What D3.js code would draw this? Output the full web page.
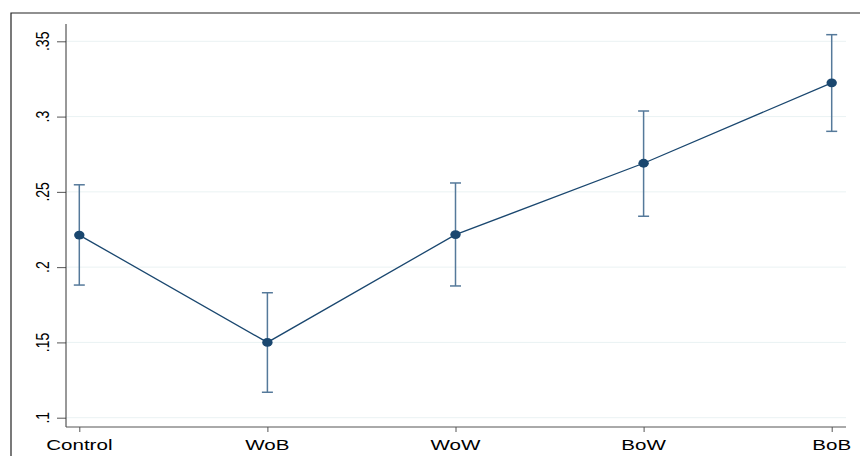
<!DOCTYPE html>
<html>
<head>
<meta charset="utf-8">
<script src="https://cdn.jsdelivr.net/npm/d3@7"></script>
<style>
  html, body { margin: 0; padding: 0; background: #fff; }
  svg { display: block; }
  text { font-family: "Liberation Sans", Arial, Helvetica, sans-serif; fill: #000; }
</style>
</head>
<body>
<svg id="chart" width="860" height="456"></svg>
<script>
// Group means with 95% confidence intervals
const groups = ["Control", "WoB", "WoW", "BoW", "BoB"];
const means = [0.2213, 0.1500, 0.2216, 0.2690, 0.3224];
const ciLow = [0.1881, 0.1169, 0.1875, 0.2338, 0.2902];
const ciHigh = [0.2547, 0.1830, 0.2559, 0.3037, 0.3544];
const yTicks = [0.1, 0.15, 0.2, 0.25, 0.3, 0.35];
const yTickLabels = [".1", ".15", ".2", ".25", ".3", ".35"];

const svg = d3.select("#chart");
const W = 860, H = 456;

// plot region
const plot = { left: 66, right: 846, top: 24, bottom: 427 };
const stretch = 1.47; // wide glyphs of the exported graph

const x = d3.scalePoint().domain(groups).range([79.3, 831.7]);
const y = d3.scaleLinear().domain([0.1, 0.35]).range([417.7, 41.3]);

const navy = "#1a476f";
const barColor = "#55799a";

// outer graph frame
svg.append("path")
  .attr("d", `M11,${H + 2} L11,13 L${W + 2},13`)
  .attr("fill", "none").attr("stroke", "#222").attr("stroke-width", 1.2);

// gridlines
svg.append("g").selectAll("line").data(yTicks).join("line")
  .attr("x1", plot.left).attr("x2", plot.right)
  .attr("y1", d => y(d)).attr("y2", d => y(d))
  .attr("stroke", "#eaf2f3").attr("stroke-width", 1);

// y axis
const yAxis = svg.append("g").attr("transform", `translate(${plot.left},0)`)
  .call(d3.axisLeft(y).tickValues(yTicks).tickSize(9).tickFormat(""));
yAxis.select(".domain").remove();
yAxis.selectAll(".tick line").attr("stroke", "#555").attr("stroke-width", 1);
svg.append("line")
  .attr("x1", plot.left).attr("x2", plot.left)
  .attr("y1", plot.top).attr("y2", plot.bottom)
  .attr("stroke", "#333").attr("stroke-width", 1);
svg.append("g").selectAll("text").data(yTicks).join("text")
  .attr("transform", d => `translate(49,${y(d)}) scale(${stretch * 0.9},1) rotate(-90)`)
  .attr("text-anchor", "middle")
  .style("font-size", "14px")
  .text((d, i) => yTickLabels[i]);

// x axis
const xAxis = svg.append("g").attr("transform", `translate(0,${plot.bottom})`)
  .call(d3.axisBottom(x).tickSize(5).tickFormat(""));
xAxis.select(".domain").remove();
xAxis.selectAll(".tick line").attr("stroke", "#555").attr("stroke-width", 1);
svg.append("line")
  .attr("x1", plot.left).attr("x2", plot.right)
  .attr("y1", plot.bottom).attr("y2", plot.bottom)
  .attr("stroke", "#555").attr("stroke-width", 1);
svg.append("g").selectAll("text").data(groups).join("text")
  .attr("transform", d => `translate(${x(d)},449.5) scale(${stretch},1)`)
  .attr("text-anchor", "middle")
  .style("font-size", "14px")
  .text(d => d);

// confidence interval bars
const ci = svg.append("g").attr("stroke", barColor).attr("stroke-width", 1.5).attr("fill", "none");
groups.forEach((g, i) => {
  const cx = x(g);
  ci.append("line").attr("x1", cx).attr("x2", cx).attr("y1", y(ciLow[i])).attr("y2", y(ciHigh[i]));
  ci.append("line").attr("x1", cx - 5.5).attr("x2", cx + 5.5).attr("y1", y(ciLow[i])).attr("y2", y(ciLow[i]));
  ci.append("line").attr("x1", cx - 5.5).attr("x2", cx + 5.5).attr("y1", y(ciHigh[i])).attr("y2", y(ciHigh[i]));
});

// connecting line
const line = d3.line().x((d, i) => x(groups[i])).y(d => y(d));
svg.append("path").datum(means)
  .attr("d", line).attr("fill", "none")
  .attr("stroke", navy).attr("stroke-width", 1.3);

// markers
svg.append("g").selectAll("ellipse").data(means).join("ellipse")
  .attr("cx", (d, i) => x(groups[i])).attr("cy", d => y(d))
  .attr("rx", 5.2).attr("ry", 4.4)
  .attr("fill", navy);
</script>
</body>
</html>
